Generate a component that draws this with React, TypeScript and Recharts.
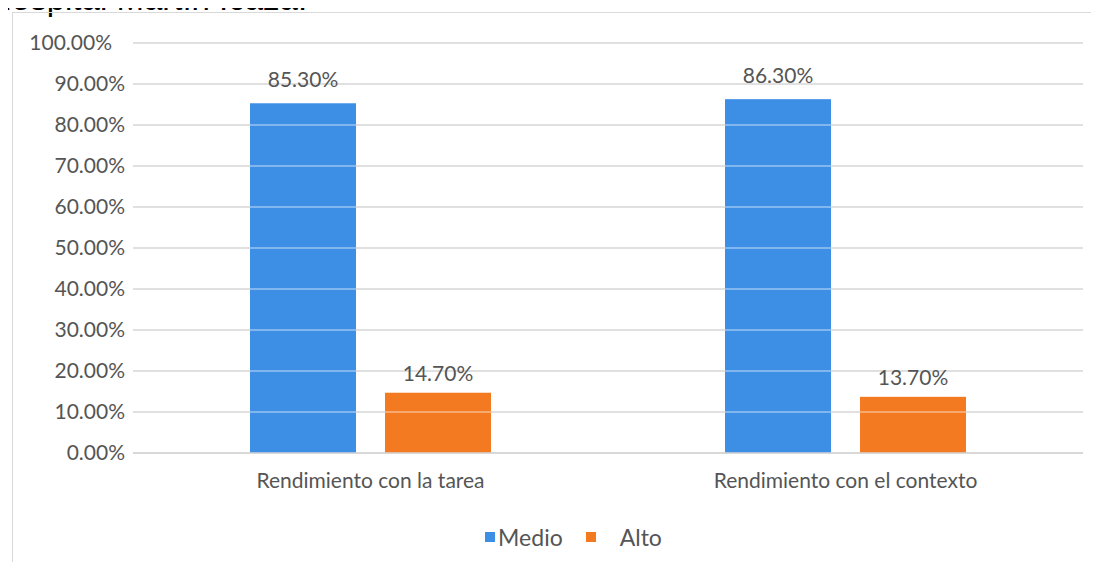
import React from "react";
import {
  BarChart,
  Bar,
  XAxis,
  YAxis,
  CartesianGrid,
  Legend,
  LabelList,
} from "recharts";

const categories = ["Rendimiento con la tarea", "Rendimiento con el contexto"];
const medio = [0.853, 0.863];
const alto = [0.147, 0.137];
const yTicks = [0, 0.1, 0.2, 0.3, 0.4, 0.5, 0.6, 0.7, 0.8, 0.9, 1];

const data = categories.map((name, i) => ({
  name,
  medio: medio[i],
  alto: alto[i],
}));

const BLUE = "#3D8FE6";
const ORANGE = "#F47A21";
const TEXT = "#555555";
const FONT = "Lato, 'Open Sans', sans-serif";

const pct = (v: number) => `${(v * 100).toFixed(2)}%`;

// y tick; the top label sits a little further left in the original
const YTick = (props: any) => {
  const { x, y, payload } = props;
  const shift = payload.value === 1 ? -13 : 0;
  return (
    <text
      x={x + shift}
      y={y}
      dy="0.35em"
      textAnchor="end"
      fill={TEXT}
      fontSize={21}
      fontFamily={FONT}
    >
      {pct(payload.value)}
    </text>
  );
};

// bar with faint white lines where the gridlines cross it
const GridBar = (props: any) => {
  const { x, y, width, height, fill, value } = props;
  const v = Array.isArray(value) ? value[1] : value;
  const lines = yTicks.filter((t) => t > 0 && t < v);
  return (
    <g>
      <rect x={x} y={y} width={width} height={height} fill={fill} />
      {lines.map((t) => {
        const ly = y + height - (t / v) * height;
        return (
          <line
            key={t}
            x1={x}
            x2={x + width}
            y1={ly}
            y2={ly}
            stroke="#ffffff"
            strokeOpacity={0.7}
            strokeWidth={1.2}
          />
        );
      })}
    </g>
  );
};

const LegendContent = () => (
  <div
    style={{
      display: "flex",
      justifyContent: "center",
      alignItems: "center",
      fontFamily: FONT,
      fontSize: 23,
      color: TEXT,
      paddingLeft: 48,
    }}
  >
    <span style={{ width: 10, height: 10, background: BLUE, marginRight: 3 }} />
    <span>Medio</span>
    <span
      style={{
        width: 10,
        height: 10,
        background: ORANGE,
        marginLeft: 23,
        marginRight: 24,
      }}
    />
    <span>Alto</span>
  </div>
);

export default function App() {
  return (
    <div
      style={{
        position: "relative",
        width: 1099,
        height: 570,
        margin: -8,
        overflow: "hidden",
        background: "#fff",
      }}
    >
      <div
        style={{
          position: "absolute",
          left: -12,
          top: -18,
          fontFamily: "'Liberation Sans', Arial, sans-serif",
          fontSize: 33,
          lineHeight: "34px",
          color: "#000",
          whiteSpace: "nowrap",
        }}
      >
        Hospital Martín Icaza.
      </div>
      <div
        style={{
          position: "absolute",
          left: 12,
          top: 12,
          width: 1120,
          height: 600,
          border: "1.5px solid #d9d9d9",
        }}
      />
      <div style={{ position: "absolute", left: 0, top: 0 }}>
        <BarChart
          width={1099}
          height={570}
          data={data}
          margin={{ top: 43, right: 16, bottom: 0, left: 0 }}
          barGap={29}
          barSize={106}
        >
          <CartesianGrid
            vertical={false}
            stroke="#d6d6d6"
            strokeWidth={1.5}
          />
          <XAxis
            dataKey="name"
            axisLine={{ stroke: "#d6d6d6", strokeWidth: 1.5 }}
            tickLine={false}
            tickSize={0}
            tickMargin={20}
            height={89}
            tick={{ fill: TEXT, fontSize: 21, fontFamily: FONT }}
          />
          <YAxis
            domain={[0, 1]}
            ticks={yTicks}
            width={133}
            axisLine={false}
            tickLine={false}
            tickSize={0}
            tickMargin={8}
            tick={<YTick />}
          />
          <Legend
            content={<LegendContent />}
            wrapperStyle={{ top: 523, left: 0, width: 1099 }}
          />
          <Bar
            dataKey="medio"
            name="Medio"
            fill={BLUE}
            shape={<GridBar />}
            isAnimationActive={false}
          >
            <LabelList
              dataKey="medio"
              position="top"
              offset={16}
              formatter={(v: any) => pct(Number(v))}
              style={{ fill: TEXT, fontSize: 21, fontFamily: FONT }}
            />
          </Bar>
          <Bar
            dataKey="alto"
            name="Alto"
            fill={ORANGE}
            shape={<GridBar />}
            isAnimationActive={false}
          >
            <LabelList
              dataKey="alto"
              position="top"
              offset={12}
              formatter={(v: any) => pct(Number(v))}
              style={{ fill: TEXT, fontSize: 21, fontFamily: FONT }}
            />
          </Bar>
        </BarChart>
      </div>
    </div>
  );
}
